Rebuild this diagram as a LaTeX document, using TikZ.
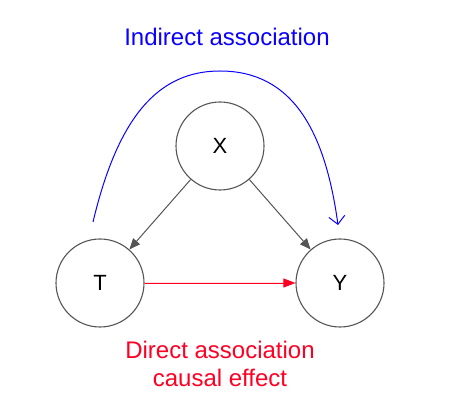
\documentclass[tikz,border=0pt]{standalone}
\usepackage{fontspec}
\setmainfont{Liberation Sans}
\usetikzlibrary{arrows.meta}
\definecolor{edgegray}{RGB}{85,85,85}
\definecolor{indblue}{RGB}{10,0,255}
\definecolor{dirred}{RGB}{255,0,35}
\tikzset{
  var/.style={circle,draw=edgegray,line width=1.1pt,minimum size=88pt,inner sep=0pt,font=\fontsize{22}{26}\selectfont},
  cause/.style={draw=edgegray,line width=1pt,-{Triangle[length=11pt,width=9pt]}}
}
\begin{document}
\begin{tikzpicture}[x=1pt,y=1pt]
\useasboundingbox (0,0) rectangle (457,417);

\node[var] (X) at (220,271) {X};
\node[var] (T) at (100,134) {T};
\node[var] (Y) at (340,134) {Y};

\draw[cause] (X) -- (T);
\draw[cause] (X) -- (Y);
\draw[draw=dirred,line width=0.8pt,-{Triangle[length=12pt,width=9pt]},fill=dirred] (T) -- (Y);

\coordinate (start) at (93,195);
\coordinate (top) at (220,346);
\coordinate (tip) at (338,192);
\draw[indblue,line width=1pt,-{Straight Barb[length=8pt,width=16pt]}] (start) .. controls (118,300) and (158,346) .. (top) .. controls (292,346) and (325,287) .. (tip);

\node[text=indblue,font=\fontsize{24}{27}\selectfont,anchor=base] (ind) at (227,371) {Indirect association};
\node[text=dirred,font=\fontsize{24}{28}\selectfont,align=center] (dir) at (220,53) {Direct association\\causal effect};
\end{tikzpicture}
\end{document}
